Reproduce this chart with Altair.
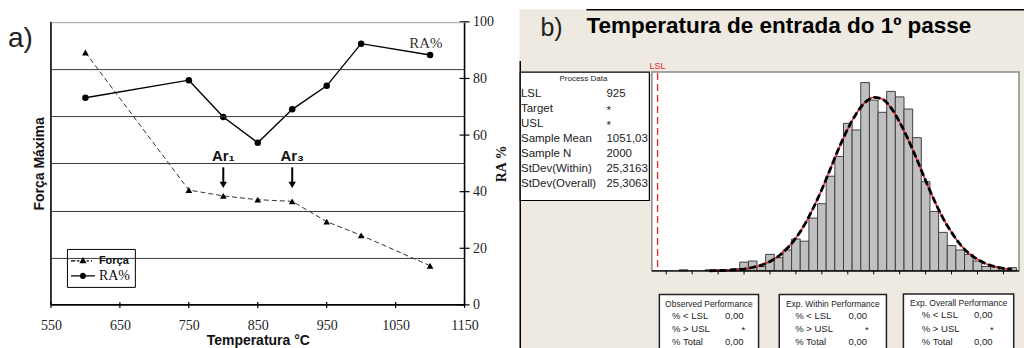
import altair as alt
import pandas as pd

# ---------------- data: panel a ----------------
temperatures = [600, 750, 800, 850, 900, 950, 1000, 1100]
ra_percent = [73.2, 79.4, 66.4, 57.3, 69.1, 77.4, 92.3, 88.3]
forca_maxima = [107.0, 48.7, 46.2, 44.6, 43.9, 35.3, 29.5, 16.6]
temp_ticks = [550, 650, 750, 850, 950, 1050, 1150]
ra_ticks = [0, 20, 40, 60, 80, 100]
forca_ticks = [20, 40, 60, 80, 100, 120]
ar_temps = [800, 900]
ar_labels = ["Ar₁", "Ar₃"]
series_names = ["Força", "RA%"]

# ---------------- data: panel b ----------------
bin_mids = [940, 955, 960, 965, 970, 975, 980, 985, 990, 995, 1000, 1005, 1010,
            1015, 1020, 1025, 1030, 1035, 1040, 1045, 1050, 1055, 1060, 1065,
            1070, 1075, 1080, 1085, 1090, 1095, 1100, 1105, 1110, 1115, 1120,
            1125, 1130]
bin_counts = [1, 1, 1, 1, 2, 8, 9, 4, 15, 12, 19, 29, 27, 48, 61, 86, 104, 134,
              128, 171, 155, 144, 163, 158, 147, 121, 81, 54, 35, 23, 19, 15, 9,
              4, 4, 2, 3]
curve_x = [955, 960, 965, 970, 975, 980, 985, 990, 995, 1000, 1005, 1010, 1015,
           1020, 1025, 1030, 1035, 1040, 1045, 1050, 1055, 1060, 1065, 1070,
           1075, 1080, 1085, 1090, 1095, 1100, 1105, 1110, 1115, 1120, 1125, 1130]
curve_counts = [0.1, 0.3, 0.5, 1.0, 1.7, 3.1, 5.2, 8.6, 13.5, 20.5, 30, 42, 57,
                74, 93, 112, 129, 143, 153, 157.5, 156, 148, 135, 119, 101, 82,
                64, 48, 35, 24, 16, 10.5, 6.4, 3.8, 2.2, 1.2]
temp_ticks_b = [930, 945, 960, 975, 990, 1005, 1020, 1035, 1050, 1065, 1080,
                1095, 1110, 1125]
lsl_value = [925]
process_labels = ["LSL", "Target", "USL", "Sample Mean", "Sample N",
                  "StDev(Within)", "StDev(Overall)"]
process_values = ["925", "*", "*", "1051,03", "2000", "25,3163", "25,3063"]
perf_titles = ["Observed Performance", "Exp. Within Performance",
               "Exp. Overall Performance"]
perf_row_labels = ["% < LSL", "% > USL", "% Total"]
perf_values = ["0,00", "*", "0,00"]
title_b = "Temperatura de entrada do 1º passe"

# ---------------- style / layout ----------------
SANS = "Liberation Sans"
SERIF = "Liberation Serif"
BEIGE = "#EEEAE1"
RED = "#E3262E"
W_A, W_B, H = 512, 505, 350

ONE = alt.Data(values=[{"k": 0}])


def text_at(t, x, y, size, font=SANS, weight="normal", align="left",
            color="black", baseline="middle"):
    return alt.Chart(ONE).mark_text(
        font=font, fontSize=size, fontWeight=weight, align=align,
        baseline=baseline, color=color
    ).encode(x=alt.value(x), y=alt.value(y), text=alt.value(t))


def rect_at(x, y, x2, y2, fill, stroke, sw):
    return alt.Chart(ONE).mark_rect(fill=fill, stroke=stroke, strokeWidth=sw).encode(
        x=alt.value(x), x2=alt.value(x2), y=alt.value(y), y2=alt.value(y2))


def hline(x, x2, y, color, sw):
    return alt.Chart(ONE).mark_rule(color=color, strokeWidth=sw).encode(
        x=alt.value(x), x2=alt.value(x2), y=alt.value(y))


def vline(x, y, y2, color, sw):
    return alt.Chart(ONE).mark_rule(color=color, strokeWidth=sw).encode(
        x=alt.value(x), y=alt.value(y), y2=alt.value(y2))


# ================= PANEL A =================
PA_X0, PA_X1 = 43, 457
PA_Y0, PA_Y1 = 296, 12.7

df_a = pd.DataFrame({"T": temperatures, "RA": ra_percent, "F": forca_maxima})

xsA = alt.Scale(domain=[550, 1150], range=[PA_X0, PA_X1], nice=False, zero=False)
axis_xA = alt.Axis(orient="bottom", values=temp_ticks, format="d", offset=PA_Y0 - H,
                   grid=False, domain=False, ticks=False,
                   labelFont=SERIF, labelFontSize=14, labelColor="#222",
                   labelPadding=14, labelFlush=False, labelOverlap=False,
                   title="Temperatura °C", titleFont=SANS, titleFontSize=14,
                   titleFontWeight="bold", titlePadding=1, titleColor="#111",
                   zindex=2)


def XA(f):
    return alt.X(f"{f}:Q", scale=xsA, axis=axis_xA)


def ys_ra():
    return alt.Scale(domain=[0, 100], range=[PA_Y0, PA_Y1], nice=False, zero=False)


def ys_f():
    return alt.Scale(domain=[0, 120], range=[PA_Y0, PA_Y1], nice=False, zero=False)


axis_ra = alt.Axis(orient="right", values=ra_ticks, offset=PA_X1 - W_A, grid=False,
                   domain=False, ticks=False, labelFont=SERIF,
                   labelFontSize=14, labelColor="#222", labelPadding=8,
                   labelFlush=False, labelOverlap=False,
                   title="RA %", titleFont=SERIF, titleFontSize=14,
                   titleFontWeight="bold", titleAngle=270, titlePadding=15,
                   titleColor="#111", zindex=2)
axis_f = alt.Axis(orient="left", values=forca_ticks, offset=-PA_X0, grid=True,
                  gridColor={"condition": {"test": "datum.value >= 120", "value": "#a0a0a0"},
                             "value": "#3a3a3a"},
                  gridWidth=1, labels=False, ticks=False, domain=False,
                  title="Força Máxima", titleFont=SANS, titleFontSize=14,
                  titleFontWeight="bold", titlePadding=4, titleColor="#111", zindex=2)

forca_line = alt.Chart(df_a).mark_line(color="#333", strokeWidth=1, strokeDash=[5, 3]).encode(
    x=XA("T"), y=alt.Y("F:Q", scale=ys_f(), axis=axis_f))
forca_pts = alt.Chart(df_a).mark_point(shape="triangle-up", filled=True, color="black",
                                       size=45, opacity=1).encode(
    x=XA("T"), y=alt.Y("F:Q", scale=ys_f(), axis=None))

ra_line = alt.Chart(df_a).mark_line(color="black", strokeWidth=1.4).encode(
    x=XA("T"), y=alt.Y("RA:Q", scale=ys_ra(), axis=axis_ra))
ra_pts = alt.Chart(df_a).mark_point(shape="circle", filled=True, color="black",
                                    size=42, opacity=1).encode(
    x=XA("T"), y=alt.Y("RA:Q", scale=ys_ra(), axis=None))

# axis lines and tick marks
frame_a = [
    vline(PA_X0, PA_Y1, PA_Y0, "black", 1.6),
    vline(PA_X1, PA_Y1, PA_Y0, "black", 1.6),
    hline(PA_X0, PA_X1, PA_Y0, "black", 1.6),
]
x_ticks_a = alt.Chart(pd.DataFrame({"t": temp_ticks})).mark_rule(
    color="black", strokeWidth=1.2).encode(x=XA("t"), y=alt.value(PA_Y0 - 3),
                                          y2=alt.value(PA_Y0 + 3))
ra_tick_marks = alt.Chart(pd.DataFrame({"v": ra_ticks})).mark_rule(
    color="black", strokeWidth=1.2).encode(
    y=alt.Y("v:Q", scale=ys_ra(), axis=None), x=alt.value(PA_X1 - 5),
    x2=alt.value(PA_X1 + 5))

AR_TEXT_LEVEL, AR_TOP, AR_BOTTOM, AR_HEAD = 52.6, 48.6, 43.0, 42.4
df_ar = pd.DataFrame({"T": ar_temps, "label": ar_labels})
ar_text = alt.Chart(df_ar).mark_text(font=SANS, fontSize=15, fontWeight="bold",
                                     color="#111").encode(
    x=XA("T"), y=alt.YDatum(AR_TEXT_LEVEL, scale=ys_ra(), axis=None), text="label:N")
ar_shaft = alt.Chart(df_ar).mark_rule(color="black", strokeWidth=2).encode(
    x=XA("T"), y=alt.YDatum(AR_TOP, scale=ys_ra(), axis=None), y2=alt.Y2Datum(AR_BOTTOM))
ar_head = alt.Chart(df_ar).mark_point(shape="triangle-down", filled=True, color="black",
                                      size=55, opacity=1).encode(
    x=XA("T"), y=alt.YDatum(AR_HEAD, scale=ys_ra(), axis=None))

df_ra_lab = pd.DataFrame({"T": [1094], "label": ["RA%"]})
ra_label = alt.Chart(df_ra_lab).mark_text(font=SERIF, fontSize=15, color="#333").encode(
    x=XA("T"), y=alt.YDatum(92.6, scale=ys_ra(), axis=None), text="label:N")

# legend symbols: filled shapes only (thin bars for the line parts)
P_FORCA = ("M-1,-0.07H-0.45V0.07H-1Z M-0.25,-0.07H0.05V0.07H-0.25Z "
           "M0.95,-0.07H1.25V0.07H0.95Z M1.5,-0.07H1.65V0.07H1.5Z "
           "M0.5,-0.5L0.95,0.3L0.05,0.3Z")
P_RA = ("M-1,-0.07H2V0.07H-1Z "
        "M0.88,0A0.38,0.38,0,1,1,0.12,0A0.38,0.38,0,1,1,0.88,0Z")

legend_layer = alt.Chart(pd.DataFrame({"serie": series_names})).transform_filter(
    "false").mark_point(filled=True, color="black", opacity=1).encode(
    shape=alt.Shape("serie:N",
                    scale=alt.Scale(domain=series_names, range=[P_FORCA, P_RA]),
                    legend=alt.Legend(
                        title=None, orient="none", legendX=59, legendY=240,
                        strokeColor="black", padding=4, symbolSize=256,
                        rowPadding=2, labelOffset=12,
                        symbolFillColor="black", symbolStrokeWidth=0,
                        labelFont={"expr": "datum.label == 'Força' ? 'Liberation Sans' : 'Liberation Serif'"},
                        labelFontWeight={"expr": "datum.label == 'Força' ? 'bold' : 'normal'"},
                        labelFontSize={"expr": "datum.label == 'Força' ? 11 : 14"},
                        labelColor="#111")))

a_label = text_at("a)", 0, 30, 28, color="#222")

panelA = alt.layer(
    forca_line, forca_pts, ra_line, ra_pts, *frame_a, x_ticks_a, ra_tick_marks,
    ar_shaft, ar_head, ar_text, ra_label, legend_layer, a_label
).resolve_scale(y="independent").properties(width=W_A, height=H)

# ================= PANEL B =================
PB_X0, PB_X1 = 132.5, 500
PB_Y0, PB_Y1 = 262, 63

xsB = alt.Scale(domain=[921.7, 1134], range=[PB_X0, PB_X1], nice=False, zero=False)
ysB = alt.Scale(domain=[0, 180.5], range=[PB_Y0, PB_Y1], nice=False, zero=False)
axis_xB = alt.Axis(orient="bottom", values=temp_ticks_b, format="d",
                   labelExpr="datum.value % 30 == 0 ? datum.label : ''",
                   offset=PB_Y0 - H, grid=False, domain=False, ticks=False,
                   labelFont=SANS, labelFontSize=11.5, labelColor="#333",
                   labelPadding=6, labelFlush=False, labelOverlap=False, title=None,
                   zindex=2)

df_bins = pd.DataFrame({"mid": bin_mids, "n": bin_counts})
df_bins["lo"] = df_bins["mid"] - 2.5
df_bins["hi"] = df_bins["mid"] + 2.5
df_bins["zero"] = 0
bars = alt.Chart(df_bins).mark_rect(fill="#C0C0C0", stroke="#404040", strokeWidth=1).encode(
    x=alt.X("lo:Q", scale=xsB, axis=axis_xB), x2="hi:Q",
    y=alt.Y("n:Q", scale=ysB, axis=None), y2="zero:Q")

df_curve = pd.DataFrame({"x": curve_x, "y": curve_counts})
curve_red = alt.Chart(df_curve).mark_line(color=RED, strokeWidth=1.6,
                                          interpolate="monotone").encode(
    x=alt.X("x:Q", scale=xsB, axis=None), y=alt.Y("y:Q", scale=ysB, axis=None))
curve_black = alt.Chart(df_curve).mark_line(color="black", strokeWidth=2.8,
                                            strokeDash=[7, 3],
                                            interpolate="monotone").encode(
    x=alt.X("x:Q", scale=xsB, axis=None), y=alt.Y("y:Q", scale=ysB, axis=None))

df_lsl = pd.DataFrame({"lsl": lsl_value, "label": ["LSL"]})
lsl_rule = alt.Chart(df_lsl).mark_rule(color=RED, strokeWidth=1.3, strokeDash=[7, 4]).encode(
    x=alt.X("lsl:Q", scale=xsB, axis=None), y=alt.value(PB_Y1 + 1), y2=alt.value(PB_Y0))
lsl_text = alt.Chart(df_lsl).mark_text(font=SANS, fontSize=9, color=RED,
                                       baseline="bottom").encode(
    x=alt.X("lsl:Q", scale=xsB, axis=None), y=alt.value(PB_Y1 - 1), text="label:N")

x_ticks_b = alt.Chart(pd.DataFrame({"t": temp_ticks_b})).mark_rule(
    color="black", strokeWidth=1).encode(
    x=alt.X("t:Q", scale=xsB, axis=None), y=alt.value(PB_Y0), y2=alt.value(PB_Y0 + 3.5))

layers_b = [
    hline(67, W_B, 0.5, "black", 1.5),
    vline(0.75, 52, H, "black", 1.5),
    text_at("b)", 21, 19, 25, color="#222"),
    text_at(title_b, 67, 17, 22.5, weight="bold", color="black"),
    rect_at(PB_X0, PB_Y1, PB_X1, PB_Y0, "white", "#8a8a8a", 1.5),
    bars, curve_red, curve_black, lsl_rule, lsl_text,
    hline(PB_X0, PB_X1, PB_Y0, "black", 1.4), x_ticks_b,
    rect_at(0.75, 63, 130, 191.5, "white", "black", 1.2),
    text_at("Process Data", 64, 70, 8, align="center", color="#222"),
]
for i, (lab, val) in enumerate(zip(process_labels, process_values)):
    yy = 84.7 + 15 * i
    layers_b.append(text_at(lab, 1.5, yy, 11.5, color="#222"))
    layers_b.append(text_at(val, 87, yy + (2 if val == "*" else 0), 11.5, color="#222"))

perf_x = [(140, 239.3), (260, 367.3), (384.3, 494.7)]
perf_top = [285.5, 285.5, 285]
perf_label_x = [152.7, 276, 402.7]
perf_value_x = [205.7, 329.3, 455]
perf_star_x = [224, 347.7, 472.7]
for k in range(3):
    x0, x1 = perf_x[k]
    top = perf_top[k]
    layers_b.append(rect_at(x0, top, x1, H, "white", "#222", 1.5))
    layers_b.append(text_at(perf_titles[k], (x0 + x1) / 2, top + 9.5, 8.5,
                            align="center", color="#222"))
    for j, (lab, val) in enumerate(zip(perf_row_labels, perf_values)):
        yy = top + 21.5 + 13.3 * j
        layers_b.append(text_at(lab, perf_label_x[k], yy, 9.5, color="#222"))
        if val == "*":
            layers_b.append(text_at(val, perf_star_x[k], yy + 1, 9.5, align="center",
                                    color="#222"))
        else:
            layers_b.append(text_at(val, perf_value_x[k], yy, 9.5, color="#222"))

panelB = alt.layer(*layers_b).properties(
    width=W_B, height=H, view=alt.ViewBackground(fill=BEIGE, stroke=None))

chart = alt.hconcat(panelA, panelB, spacing=0).properties(
    padding={"left": 0, "top": 0, "right": 0, "bottom": 0}
).configure_view(stroke=None)

chart.save("out.html", embed_options={"renderer": "svg", "actions": False})
